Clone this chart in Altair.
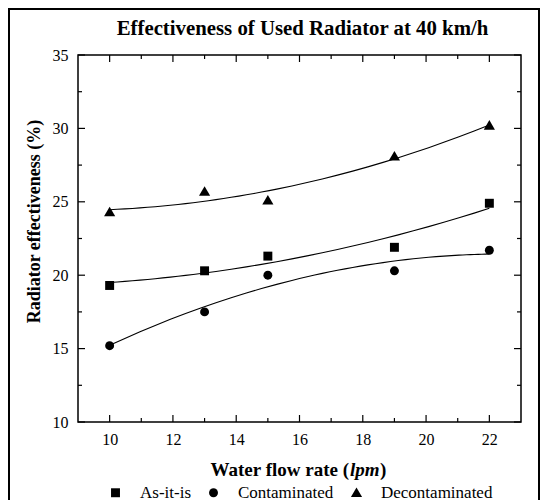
import altair as alt
import pandas as pd

# ---- data ----
flow = [10, 13, 15, 19, 22]
as_it_is = [19.3, 20.3, 21.3, 21.9, 24.9]
contaminated = [15.2, 17.5, 20.0, 20.3, 21.7]
decontaminated = [24.3, 25.7, 25.1, 28.1, 30.2]
series_names = ["As-it-is", "Contaminated", "Decontaminated"]
series_shapes = ["square", "circle", "M-1.25,0.95L1.25,0.95L0,-1.2Z"]

x_major = [10, 12, 14, 16, 18, 20, 22]
x_minor = [11, 13, 15, 17, 19, 21]
y_major = [10, 15, 20, 25, 30, 35]
y_minor = [12.5, 17.5, 22.5, 27.5, 32.5]

title_text = "Effectiveness of Used Radiator at 40 km/h"
y_title = "Radiator effectiveness (%)"
x_title_parts = ["Water flow rate (", "lpm", ")"]

W, H = 443, 367
FONT = "Liberation Serif"

rows = []
for name, vals in zip(series_names, [as_it_is, contaminated, decontaminated]):
    for f, v in zip(flow, vals):
        rows.append({"flow": f, "eff": v, "series": name})
df = pd.DataFrame(rows)

xs = alt.Scale(domain=[9, 23], nice=False, zero=False)
ys = alt.Scale(domain=[10, 35], nice=False, zero=False)

xaxis = alt.Axis(values=x_major, ticks=False, domain=False, grid=False,
                 labelFont=FONT, labelFontSize=16, labelColor="black",
                 labelPadding=9, title=None)
yaxis = alt.Axis(values=y_major, ticks=False, domain=False, grid=False,
                 labelFont=FONT, labelFontSize=16, labelColor="black",
                 labelPadding=10, title=y_title, titleFont=FONT,
                 titleFontSize=18, titleFontWeight="bold", titleColor="black",
                 titlePadding=9, titleY=166)

legend = alt.Legend(title=None, orient="none", direction="horizontal",
                    legendX=29, legendY=429, padding=0, labelFont=FONT,
                    labelFontSize=17, labelColor="black",
                    symbolFillColor="black", symbolStrokeWidth=0, symbolSize=80,
                    labelOffset=16, columnPadding=14)

points = alt.Chart(df).mark_point(filled=True, color="black", opacity=1, size=80).encode(
    x=alt.X("flow:Q", scale=xs, axis=xaxis),
    y=alt.Y("eff:Q", scale=ys, axis=yaxis),
    shape=alt.Shape("series:N", scale=alt.Scale(domain=series_names, range=series_shapes),
                    legend=legend),
)

fits = alt.Chart(df).transform_regression(
    "flow", "eff", method="poly", order=2, groupby=["series"]
).mark_line(color="black", strokeWidth=1.1).encode(
    x=alt.X("flow:Q", scale=xs, axis=xaxis),
    y=alt.Y("eff:Q", scale=ys, axis=yaxis),
    detail="series:N",
)

rules = []
for kind, n in [("major", 7), ("minor", 4)]:
    xv = x_major if kind == "major" else x_minor
    yv = y_major if kind == "major" else y_minor
    dx = pd.DataFrame({"flow": xv})
    dy = pd.DataFrame({"eff": yv})
    rules.append(alt.Chart(dx).mark_rule(color="black", strokeWidth=1.2).encode(
        x=alt.X("flow:Q", scale=xs, axis=xaxis), y=alt.value(H), y2=alt.value(H - n)))
    rules.append(alt.Chart(dx).mark_rule(color="black", strokeWidth=1.2).encode(
        x=alt.X("flow:Q", scale=xs, axis=xaxis), y=alt.value(0), y2=alt.value(n)))
    rules.append(alt.Chart(dy).mark_rule(color="black", strokeWidth=1.2).encode(
        y=alt.Y("eff:Q", scale=ys, axis=yaxis), x=alt.value(0), x2=alt.value(n)))
    rules.append(alt.Chart(dy).mark_rule(color="black", strokeWidth=1.2).encode(
        y=alt.Y("eff:Q", scale=ys, axis=yaxis), x=alt.value(W), x2=alt.value(W - n)))

one = pd.DataFrame({"a": [0]})
border = alt.Chart(one).mark_rect(fillOpacity=0, stroke="black", strokeWidth=2).encode(
    x=alt.value(-69), x2=alt.value(461), y=alt.value(-46), y2=alt.value(452))

title_mark = alt.Chart(one).mark_text(text=title_text, font=FONT, fontSize=20.8,
                                      fontWeight="bold", align="center",
                                      baseline="alphabetic", color="black").encode(
    x=alt.value(W / 2 + 3), y=alt.value(-20))

XT = 271
XY = 421
xt1 = alt.Chart(one).mark_text(text=x_title_parts[0], font=FONT, fontSize=19,
                               fontWeight="bold", align="right", baseline="alphabetic",
                               color="black").encode(x=alt.value(XT), y=alt.value(XY))
xt2 = alt.Chart(one).mark_text(text=x_title_parts[1], font=FONT, fontSize=19, fontWeight="bold",
                               fontStyle="italic", align="left", baseline="alphabetic",
                               color="black").encode(x=alt.value(XT + 1), y=alt.value(XY))
xt3 = alt.Chart(one).mark_text(text=x_title_parts[2], font=FONT, fontSize=19, fontWeight="bold",
                               align="left", baseline="alphabetic",
                               color="black").encode(x=alt.value(XT + 31), y=alt.value(XY))

chart = alt.layer(points, fits, *rules, border, title_mark, xt1, xt2, xt3).properties(
    width=W, height=H,
    padding={"left": 70, "top": 47, "right": 20, "bottom": 78},
    autosize=alt.AutoSizeParams(type="none"),
    background="white",
).configure_view(stroke="black", strokeWidth=1.5)

chart.save("out.html", embed_options={"renderer": "svg", "actions": False})
